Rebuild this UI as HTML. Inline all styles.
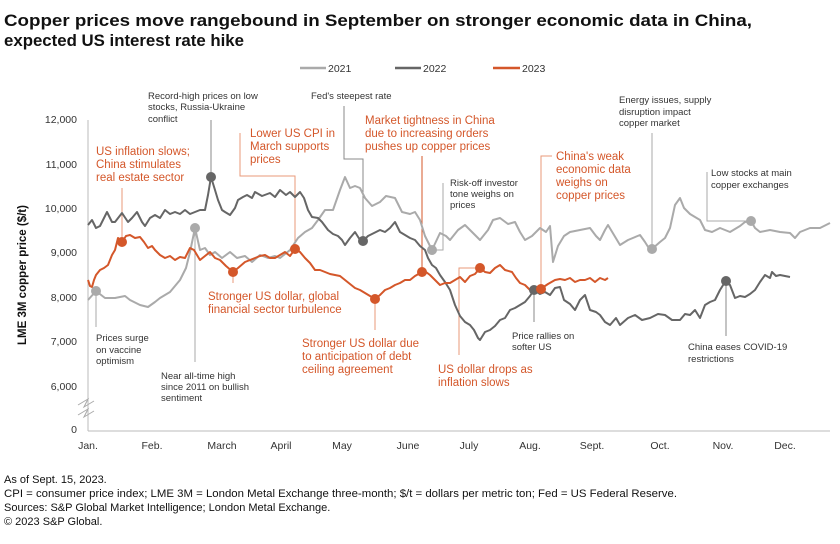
<!DOCTYPE html>
<html><head><meta charset="utf-8"><style>
body{margin:0;background:#fff}
svg{display:block;font-family:"Liberation Sans",sans-serif}
.g{font-size:9.5px;fill:#333}
.o{font-size:11.5px;fill:#d4572a}
.t{font-size:10.5px;fill:#333}
.f{font-size:11px;fill:#111}
</style></head><body>
<svg width="840" height="544" viewBox="0 0 840 544">
<text x="4" y="26" font-size="17" font-weight="bold" fill="#111" textLength="748" lengthAdjust="spacingAndGlyphs">Copper prices move rangebound in September on stronger economic data in China,</text>
<text x="4" y="46" font-size="17" font-weight="bold" fill="#111" textLength="240" lengthAdjust="spacingAndGlyphs">expected US interest rate hike</text>
<!-- legend -->
<line x1="300" y1="68" x2="326" y2="68" stroke="#aaa" stroke-width="2.5"/><text x="328" y="72" class="t">2021</text>
<line x1="395" y1="68" x2="421" y2="68" stroke="#666" stroke-width="2.5"/><text x="423" y="72" class="t">2022</text>
<line x1="493" y1="68" x2="520" y2="68" stroke="#d4572a" stroke-width="2.5"/><text x="522" y="72" class="t">2023</text>
<!-- axes -->
<line x1="88" y1="120" x2="88" y2="431" stroke="#bbb"/>
<line x1="88" y1="431" x2="830" y2="431" stroke="#bbb"/>
<path d="M78,405 l10,-6 l-4,8 l10,-6 M78,415 l10,-6 l-4,8 l10,-6" stroke="#aaa" fill="none"/>
<g class="t" text-anchor="end">
<text x="77" y="123">12,000</text><text x="77" y="168">11,000</text><text x="77" y="212">10,000</text><text x="77" y="256">9,000</text><text x="77" y="301">8,000</text><text x="77" y="345">7,000</text><text x="77" y="390">6,000</text><text x="77" y="433">0</text>
</g>
<text transform="translate(26,275) rotate(-90)" text-anchor="middle" font-size="11.5" font-weight="bold" fill="#111">LME 3M copper price ($/t)</text>
<g class="t" text-anchor="middle">
<text x="88" y="449">Jan.</text><text x="152" y="449">Feb.</text><text x="222" y="449">March</text><text x="281" y="449">April</text><text x="342" y="449">May</text><text x="408" y="449">June</text><text x="469" y="449">July</text><text x="530" y="449">Aug.</text><text x="592" y="449">Sept.</text><text x="660" y="449">Oct.</text><text x="723" y="449">Nov.</text><text x="785" y="449">Dec.</text>
</g>
<!-- leader lines -->
<g fill="none" stroke-width="1">
<path d="M96,291 V327" stroke="#aaa"/>
<path d="M195,228 V362" stroke="#aaa"/>
<path d="M211,177 V120" stroke="#888"/>
<path d="M363,241 V159 H344 V106" stroke="#888"/>
<path d="M432,250 H443 V183" stroke="#aaa"/>
<path d="M534,290 V322" stroke="#888"/>
<path d="M652,249 V133" stroke="#aaa"/>
<path d="M751,221 H707 V172" stroke="#aaa"/>
<path d="M726,281 V336" stroke="#888"/>
<path d="M122,242 V188" stroke="#e89a7a"/>
<path d="M295,249 V176 H240 V133" stroke="#e89a7a"/>
<path d="M233,272 V283" stroke="#e89a7a"/>
<path d="M375,299 V330" stroke="#e89a7a"/>
<path d="M422,272 V156" stroke="#d4572a"/>
<path d="M480,268 H459 V355" stroke="#e89a7a"/>
<path d="M541,289 V156 H552" stroke="#e89a7a"/>
</g>
<!-- 2021 -->
<polyline fill="none" stroke="#aaa" stroke-width="2" stroke-linejoin="round" points="88,300 96,291 105,298 115,298 125,296 130,300 140,305 148,307 155,302 160,298 170,292 180,280 186,268 190,252 195,228 200,250 205,248 210,255 215,252 222,258 230,252 237,258 245,256 252,262 260,255 268,258 275,256 280,258 290,250 298,238 305,232 312,228 318,220 325,210 333,210 340,190 345,177 350,188 355,186 360,188 365,198 372,206 380,202 386,196 395,198 402,212 410,214 415,212 420,220 425,236 432,250 440,233 446,236 450,240 458,230 465,225 472,232 480,240 488,230 493,220 500,218 508,224 515,222 520,232 525,240 532,236 540,228 546,232 550,226 553,262 558,246 564,236 570,232 580,230 590,228 596,236 600,240 605,230 608,225 614,235 620,245 628,240 640,235 645,242 650,250 652,249 660,242 665,238 670,228 675,205 680,198 684,208 690,214 700,220 705,230 712,232 720,228 730,232 740,226 745,222 751,221 755,228 760,232 770,230 780,232 790,233 795,238 800,232 810,228 820,228 830,223"/>
<!-- 2022 -->
<polyline fill="none" stroke="#666" stroke-width="2" stroke-linejoin="round" points="88,225 92,220 96,228 100,226 107,212 112,222 115,222 122,213 128,222 132,218 137,212 142,222 145,226 150,218 155,215 160,218 165,210 170,214 175,212 180,214 185,210 190,214 195,212 200,210 205,210 208,195 211,177 215,190 218,200 222,210 225,212 230,215 235,208 238,200 243,197 247,195 252,198 255,192 262,196 270,193 275,197 280,190 286,195 290,192 295,197 300,192 304,198 308,210 312,217 318,218 322,222 328,230 333,234 338,236 342,240 345,245 350,238 355,232 360,240 363,241 368,236 372,234 380,230 385,232 390,228 395,222 400,232 405,235 410,238 415,240 420,246 425,250 428,258 432,265 436,268 440,275 445,282 450,290 455,305 460,316 465,322 470,325 474,330 478,338 480,340 485,332 490,330 495,326 500,320 505,318 510,310 515,308 520,305 525,302 530,296 534,290 540,294 545,292 550,295 555,288 560,287 564,300 570,304 575,310 580,300 585,295 590,310 596,312 600,315 605,322 610,325 616,318 620,325 628,318 635,315 642,320 650,318 658,314 665,315 672,320 680,320 685,314 690,315 695,310 700,318 705,305 710,302 715,300 720,290 725,282 730,285 735,298 740,296 745,297 750,294 755,290 760,282 765,275 770,278 772,272 776,276 780,275 790,277"/>
<!-- 2023 -->
<polyline fill="none" stroke="#d4572a" stroke-width="2" stroke-linejoin="round" points="88,280 90,286 92,287 94,280 96,275 100,270 104,268 108,265 112,255 115,250 118,238 120,240 122,242 126,236 130,235 135,238 140,237 144,242 148,248 152,246 155,250 160,255 165,258 170,256 175,260 180,257 185,258 190,248 194,250 200,260 205,256 210,252 215,258 220,260 226,266 233,272 238,268 245,262 250,260 255,258 260,256 265,255 270,258 275,258 280,255 285,252 290,256 295,249 300,252 305,258 310,263 315,270 320,270 325,272 330,274 335,275 340,276 345,280 350,284 355,288 360,290 365,293 370,296 375,299 380,295 385,290 390,288 395,285 400,283 405,280 410,280 415,276 422,272 426,272 430,275 435,280 440,285 445,283 450,283 455,280 460,277 465,282 470,276 475,274 480,268 485,272 490,273 495,268 500,265 505,270 512,272 516,278 520,283 525,285 530,290 536,288 542,288 548,284 555,280 560,279 565,280 570,278 575,282 580,280 585,280 590,278 595,282 600,278 605,280 608,278"/>
<!-- dots -->
<g>
<circle cx="96" cy="291" r="5" fill="#aaa"/><circle cx="195" cy="228" r="5" fill="#aaa"/><circle cx="432" cy="250" r="5" fill="#aaa"/><circle cx="652" cy="249" r="5" fill="#aaa"/><circle cx="751" cy="221" r="5" fill="#aaa"/>
<circle cx="211" cy="177" r="5" fill="#666"/><circle cx="363" cy="241" r="5" fill="#666"/><circle cx="534" cy="290" r="5" fill="#666"/><circle cx="726" cy="281" r="5" fill="#666"/>
<circle cx="122" cy="242" r="5" fill="#d4572a"/><circle cx="233" cy="272" r="5" fill="#d4572a"/><circle cx="295" cy="249" r="5" fill="#d4572a"/><circle cx="375" cy="299" r="5" fill="#d4572a"/><circle cx="422" cy="272" r="5" fill="#d4572a"/><circle cx="480" cy="268" r="5" fill="#d4572a"/><circle cx="541" cy="289" r="5" fill="#d4572a"/>
</g>
<!-- gray notes -->
<g class="g">
<text x="148" y="99">Record-high prices on low</text><text x="148" y="110">stocks, Russia-Ukraine</text><text x="148" y="122">conflict</text>
<text x="311" y="99">Fed's steepest rate</text>
<text x="96" y="341">Prices surge</text><text x="96" y="353">on vaccine</text><text x="96" y="364">optimism</text>
<text x="161" y="379">Near all-time high</text><text x="161" y="390">since 2011 on bullish</text><text x="161" y="401">sentiment</text>
<text x="450" y="186">Risk-off investor</text><text x="450" y="197">tone weighs on</text><text x="450" y="208">prices</text>
<text x="512" y="339">Price rallies on</text><text x="512" y="350">softer US</text>
<text x="619" y="103">Energy issues, supply</text><text x="619" y="115">disruption impact</text><text x="619" y="126">copper market</text>
<text x="711" y="176">Low stocks at main</text><text x="711" y="188">copper exchanges</text>
<text x="688" y="350">China eases COVID-19</text><text x="688" y="362">restrictions</text>
</g>
<!-- orange notes -->
<g class="o">
<text x="96" y="155">US inflation slows;</text><text x="96" y="168">China stimulates</text><text x="96" y="181">real estate sector</text>
<text x="250" y="137">Lower US CPI in</text><text x="250" y="150">March supports</text><text x="250" y="163">prices</text>
<text x="365" y="124">Market tightness in China</text><text x="365" y="137">due to increasing orders</text><text x="365" y="150">pushes up copper prices</text>
<text x="208" y="300">Stronger US dollar, global</text><text x="208" y="313">financial sector turbulence</text>
<text x="302" y="347">Stronger US dollar due</text><text x="302" y="360">to anticipation of debt</text><text x="302" y="373">ceiling agreement</text>
<text x="438" y="373">US dollar drops as</text><text x="438" y="386">inflation slows</text>
<text x="556" y="160">China's weak</text><text x="556" y="173">economic data</text><text x="556" y="186">weighs on</text><text x="556" y="199">copper prices</text>
</g>
<!-- footer -->
<g class="f">
<text x="4" y="483">As of Sept. 15, 2023.</text>
<text x="4" y="497" textLength="673" lengthAdjust="spacingAndGlyphs">CPI = consumer price index; LME 3M = London Metal Exchange three-month; $/t = dollars per metric ton; Fed = US Federal Reserve.</text>
<text x="4" y="511">Sources: S&amp;P Global Market Intelligence; London Metal Exchange.</text>
<text x="4" y="525">© 2023 S&amp;P Global.</text>
</g>
</svg>
</body></html>
